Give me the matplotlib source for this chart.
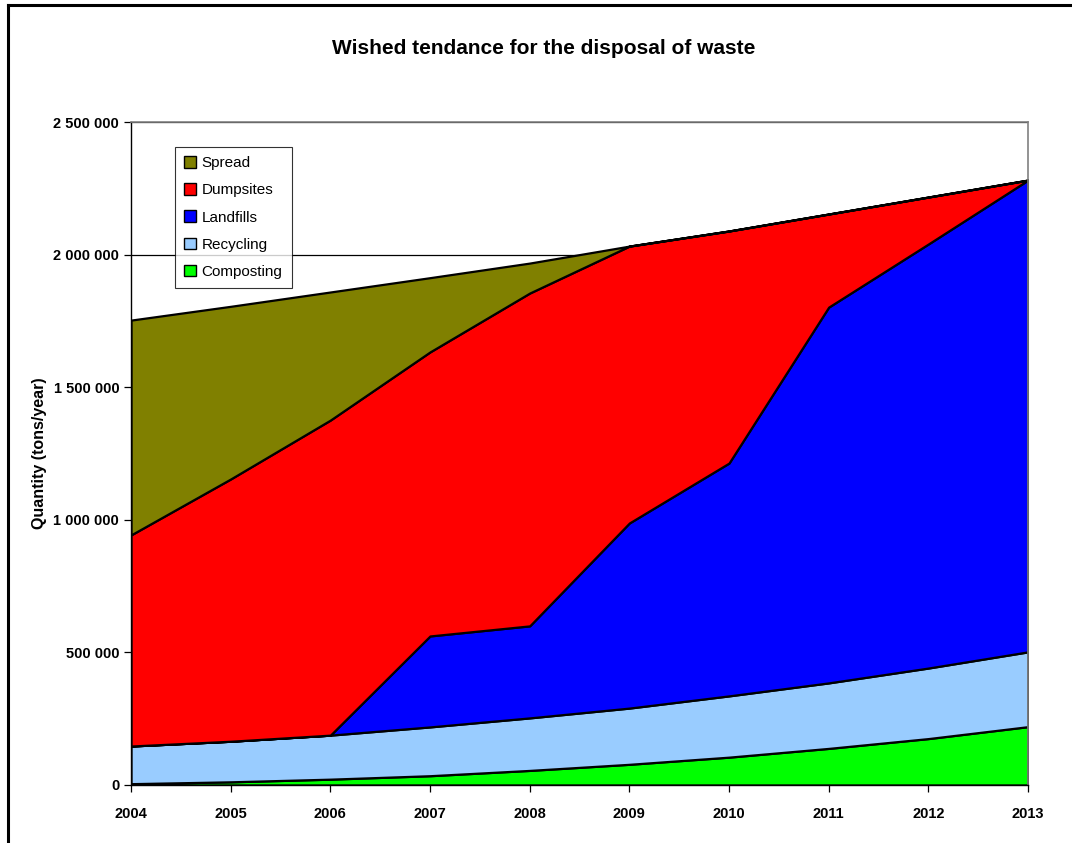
import matplotlib.pyplot as plt
from matplotlib.lines import Line2D
from matplotlib.patches import Patch
from matplotlib.ticker import FuncFormatter

plt.rcParams['font.family'] = ['Liberation Sans', 'DejaVu Sans']

years = [2004, 2005, 2006, 2007, 2008, 2009, 2010, 2011, 2012, 2013]
composting = [5000, 12000, 22000, 35000, 55000, 78000, 105000, 138000, 175000, 220000]
recycling = [142000, 153000, 166000, 184000, 198000, 212000, 231000, 247000, 266000, 282000]
landfills = [0, 0, 0, 343000, 347000, 698000, 878000, 1417000, 1599000, 1779000]
dumpsites = [796000, 989000, 1188000, 1071000, 1255000, 1044000, 875000, 351000, 177000, 0]
spread = [810000, 651000, 483000, 280000, 113000, 0, 0, 0, 0, 0]

names = ["Composting", "Recycling", "Landfills", "Dumpsites", "Spread"]
colors = ["#00FF00", "#99CCFF", "#0000FF", "#FF0000", "#808000"]

fig = plt.figure(figsize=(10.72, 8.43), dpi=100)
ax = fig.add_axes([131/1072, 1-785/843, (1028-131)/1072, (785-122)/843])

# gridline behind the areas
ax.set_axisbelow(True)
ax.yaxis.grid(True, color="black", linewidth=0.9)

ax.stackplot(years, composting, recycling, landfills, dumpsites, spread,
             colors=colors, edgecolor="black", linewidth=1.6, zorder=2)

ax.set_xlim(2004, 2013)
ax.set_ylim(0, 2500000)
ax.set_xticks(years)
ax.set_yticks([0, 500000, 1000000, 1500000, 2000000, 2500000])
ax.yaxis.set_major_formatter(FuncFormatter(lambda v, p: f"{int(v):,}".replace(",", " ")))
ax.tick_params(axis="both", direction="out", length=5, width=0.9, labelsize=10.5)
ax.tick_params(axis="x", pad=11)
for lbl in ax.get_xticklabels() + ax.get_yticklabels():
    lbl.set_fontweight("bold")

for s in ["top", "right"]:
    ax.spines[s].set_color("#808080")
    ax.spines[s].set_linewidth(1.2)
for s in ["left", "bottom"]:
    ax.spines[s].set_color("black")
    ax.spines[s].set_linewidth(1.0)

ax.set_ylabel("Quantity (tons/year)", fontsize=11.5, fontweight="bold")
ax.yaxis.set_label_coords(-0.094, 0.5)
fig.text(544/1072, 1-48/843, "Wished tendance for the disposal of waste",
         ha="center", va="center", fontsize=15, fontweight="bold")

handles = [Patch(facecolor=c, edgecolor="black", linewidth=1) for c in colors[::-1]]
leg = ax.legend(handles, names[::-1], loc="upper left", bbox_to_anchor=(44/897, 1-25/663),
                fontsize=11, frameon=True, fancybox=False, edgecolor="black",
                handlelength=0.8, handleheight=0.8, handletextpad=0.35,
                labelspacing=0.85, borderpad=0.6, borderaxespad=0)
leg.get_frame().set_linewidth(0.8)

# outer frame of the chart (left and top edges visible)
fig.add_artist(Line2D([7.5/1072, 7.5/1072], [0, 1-4.5/843], color="black", linewidth=2.2,
                      transform=fig.transFigure))
fig.add_artist(Line2D([7.5/1072, 1], [1-4.5/843, 1-4.5/843], color="black", linewidth=2.2,
                      transform=fig.transFigure))

fig.savefig("out.png", dpi=100)
